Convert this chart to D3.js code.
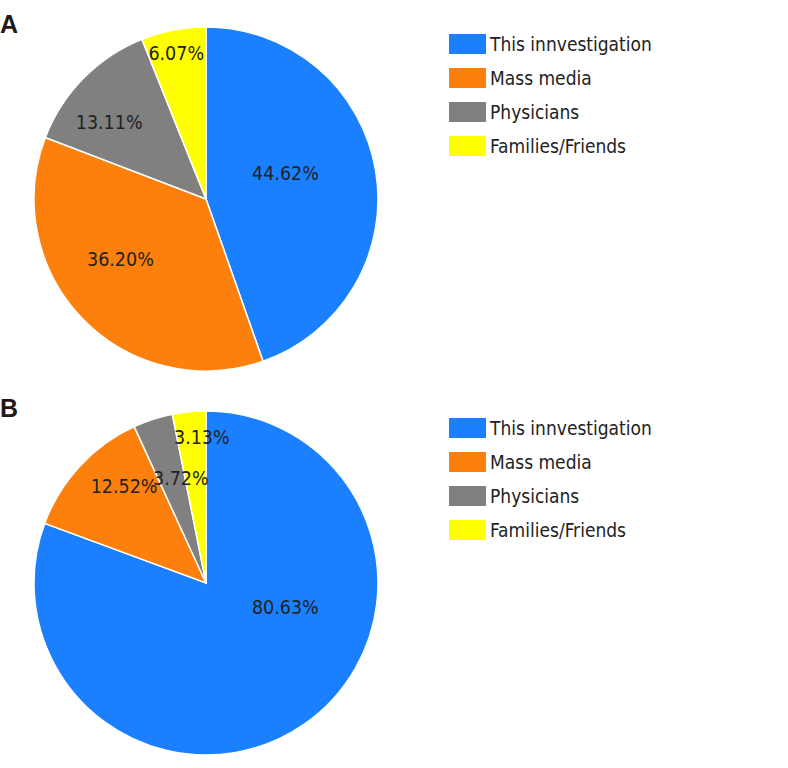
<!DOCTYPE html>
<html><head><meta charset="utf-8">
<script src="https://cdn.jsdelivr.net/npm/d3@7"></script>
<style>body{margin:0;background:#fff}</style>
</head><body><svg id="c" width="788" height="768"></svg>
<script>
const categories = ["This innvestigation", "Mass media", "Physicians", "Families/Friends"];
const panelLetters = ["A", "B"];
const valuesA = [44.62, 36.20, 13.11, 6.07];
const valuesB = [80.63, 12.52, 3.72, 3.13];
const colors = ["#1a80ff", "#fd800c", "#808080", "#ffff00"];

// label placement tweaks (layout only): angle offset in degrees, radius fraction
const labelLayout = [
  [[-8.7, 0.487], [9.4, 0.606], [-6.2, 0.718], [-0.6, 0.866]],
  [[-38.3, 0.482], [7, 0.738], [4.5, 0.628], [4, 0.849]]
];

const svg = d3.select("#c");
const R = 172;
const panels = [
  {letter: panelLetters[0], values: valuesA, cx: 206, cy: 199, lay: labelLayout[0]},
  {letter: panelLetters[1], values: valuesB, cx: 206, cy: 583, lay: labelLayout[1]}
];
const font = "'DejaVu Sans Condensed', 'DejaVu Sans', sans-serif";
const color = d3.scaleOrdinal().domain(categories).range(colors);
const pie = d3.pie().sort(null).value(d => d.v);
const arc = d3.arc().innerRadius(0).outerRadius(R);

panels.forEach((p, pi) => {
  const data = categories.map((c, i) => ({c, v: p.values[i]}));
  const arcs = pie(data);
  const g = svg.append("g").attr("transform", `translate(${p.cx},${p.cy})`);
  g.selectAll("path").data(arcs).join("path")
    .attr("d", arc)
    .attr("fill", d => color(d.data.c))
    .attr("stroke", "#fff").attr("stroke-width", 1.5);
  g.selectAll("text").data(arcs).join("text")
    .each(function(d, i) {
      const mid = (d.startAngle + d.endAngle) / 2 + p.lay[i][0] * Math.PI / 180;
      const r = R * p.lay[i][1];
      d3.select(this)
        .attr("x", r * Math.sin(mid))
        .attr("y", -r * Math.cos(mid))
        .attr("dy", "0.36em");
    })
    .attr("text-anchor", "middle")
    .attr("font-family", font).attr("font-size", 19.5)
    .attr("fill", "#222")
    .text(d => d.data.v.toFixed(2) + "%");

  svg.append("text")
    .attr("x", 0).attr("y", p.cy - 166)
    .attr("font-family", "'Liberation Sans', Arial, sans-serif")
    .attr("font-weight", "bold").attr("font-size", 25)
    .attr("fill", "#231815")
    .text(p.letter);

  const lg = svg.append("g").attr("transform", `translate(449,${p.cy - 165})`);
  const row = lg.selectAll("g").data(categories).join("g")
    .attr("transform", (d, i) => `translate(0,${i * 34})`);
  row.append("rect").attr("width", 37).attr("height", 20)
    .attr("fill", d => color(d));
  row.append("text").attr("x", 41).attr("y", 17)
    .attr("font-family", font).attr("font-size", 19)
    .attr("fill", "#222")
    .text(d => d);
});
</script></body></html>
